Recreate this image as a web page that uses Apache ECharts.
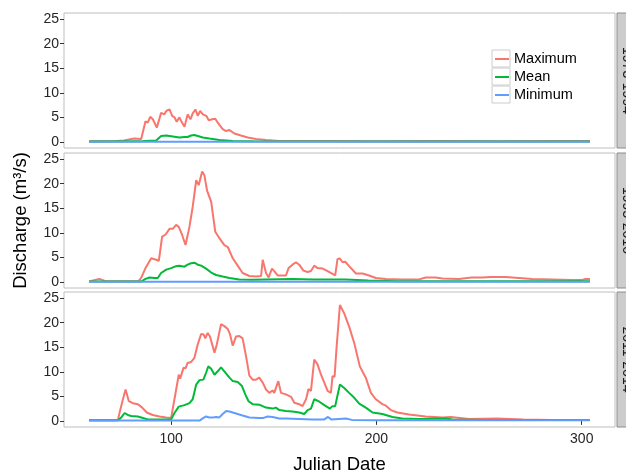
<!DOCTYPE html>
<html>
<head>
<meta charset="utf-8">
<script src="https://cdn.jsdelivr.net/npm/echarts@6/dist/echarts.min.js"></script>
<style>
	html, body { margin: 0; padding: 0; background: #fff; }
	#main { width: 626px; height: 474px; }
</style>
</head>
<body>
<div id="main"></div>
<script>
// periods, one facet each
const periods = ['1973-1994', '1995-2010', '2011-2014'];
const xTicks = [100, 200, 300];
const yTicks = [0, 5, 10, 15, 20, 25];

// [julian day, discharge m3/s]
const max1973 = [[60,0.1],[70,0.1],[77,0.3],[82,0.7],[85.4,0.6],[87.5,4.2],[88.6,3.9],[89.8,5.1],[91.1,4.6],[93,2.9],[95.1,5.9],[96.7,5.6],[97.6,6.3],[99.2,6.6],[100.5,5.3],[101.6,5.0],[102.7,4.1],[104,5.0],[104.8,4.3],[106.5,3.1],[108,5.6],[109.4,4.6],[110.5,5.8],[111.8,6.6],[113,5.3],[114.1,6.3],[115.4,5.6],[117.1,5.3],[118.3,4.4],[120,4.6],[121.5,4.7],[122.7,3.9],[125.1,2.6],[126.7,2.2],[128.4,2.4],[130.8,1.7],[134,1.3],[137.3,0.9],[141.3,0.6],[146.2,0.4],[152.6,0.2],[174,0.2],[200,0.15],[230,0.2],[260,0.15],[290,0.2],[304,0.2]];
const mean1973 = [[60,0.05],[85,0.1],[87,0.2],[92.7,0.3],[95.1,1.2],[97.6,1.3],[100.8,1.1],[104,0.9],[106.5,1.0],[108,1.0],[109.7,1.3],[111.3,1.4],[113,1.2],[115.4,0.9],[118.6,0.7],[123.5,0.4],[130,0.2],[140,0.1],[304,0.05]];
const min1973 = [[60,0],[120,0],[200,0],[304,0]];

const max1995 = [[60,0.1],[63,0.4],[65,0.6],[68.4,0.1],[84,0.1],[85.4,0.8],[87.5,2.8],[90.3,4.8],[92.7,4.5],[94,4.3],[95.6,9.2],[97.2,9.6],[99.2,10.8],[100.8,10.8],[102.4,11.6],[103.7,11.2],[105.3,9.6],[107,7.5],[108.9,11.2],[110.5,15.3],[112.2,20.7],[113.4,19.7],[114.1,19.8],[115.1,22.5],[116.2,21.7],[117.5,18.6],[119.5,16.3],[121.5,10.2],[123.5,8.9],[125.9,7.5],[127.6,7.1],[130,4.8],[132.4,3.3],[134.8,1.8],[138.1,1.2],[141.3,1.1],[143.8,1.2],[144.6,4.5],[146.2,1.8],[147.5,0.9],[149.1,2.7],[150.2,2.2],[151.9,1.3],[155.9,1.3],[157.2,2.8],[159.1,3.5],[160.8,4.0],[162.4,3.5],[164.4,2.3],[166.5,2.0],[168.1,2.2],[169.7,3.3],[171.3,2.8],[173.8,2.7],[176.2,2.2],[179.9,1.3],[181,4.6],[182.1,4.8],[183.5,4.0],[184.8,4.1],[186.7,3.2],[190,1.7],[193.2,1.7],[196.4,1.3],[199.7,0.8],[204.6,0.6],[212.6,0.5],[220.8,0.5],[224,0.9],[228.9,0.9],[232.1,0.7],[240.2,0.6],[246.4,0.9],[251.6,0.9],[255.6,1.0],[262.9,1.0],[269.4,0.8],[275.9,0.6],[285.6,0.5],[295.3,0.4],[300.2,0.4],[301.8,0.6],[304,0.6]];
const mean1995 = [[60,0.05],[85.4,0.05],[87.5,0.6],[89.5,0.9],[91.9,0.8],[93.5,0.8],[95.1,1.8],[97.6,2.5],[100,2.8],[102.4,3.2],[104,3.3],[106.5,3.1],[108,3.5],[109.7,3.8],[111.3,3.9],[113,3.5],[114.6,3.3],[117,2.7],[119.5,1.9],[121.9,1.4],[125.1,1.1],[128.4,0.8],[133.2,0.5],[139.7,0.45],[146.2,0.5],[159.1,0.6],[168.8,0.5],[185,0.5],[196,0.3],[210,0.15],[304,0.1]];
const min1995 = [[60,0],[120,0],[200,0],[304,0]];

const max2011 = [[60,0.1],[74,0.1],[74.9,1.7],[76.5,4.4],[77.8,6.4],[79.4,4.0],[81.3,3.6],[83.8,3.4],[85.9,2.7],[88.1,1.7],[91,1.2],[94.3,0.9],[97.6,0.7],[100,0.6],[101.6,4.4],[103.7,9.4],[104.4,8.6],[106,10.8],[107,10.7],[108,11.8],[109.7,12.0],[111.3,12.8],[112.9,15.5],[114.6,17.7],[115.8,17.6],[116.6,16.8],[117.8,17.9],[118.9,17.2],[121.1,13.9],[122.2,15.5],[124.3,19.7],[125.9,19.3],[127.6,18.7],[128.7,17.6],[130,15.3],[131.6,17.2],[133.2,17.3],[134.8,16.8],[136.5,13.1],[138.1,9.2],[139.7,8.4],[141.3,8.4],[142.9,8.8],[144.6,7.8],[146.2,6.4],[147.8,5.7],[149.4,6.2],[150.2,5.7],[151,6.1],[152.2,8.1],[153.5,5.7],[155.9,5.4],[158.4,4.9],[160,3.7],[162.4,3.4],[164,3.0],[165.7,4.4],[166.9,6.5],[168.1,6.1],[169.7,12.5],[171.3,11.5],[173,9.4],[174.6,7.8],[176.2,6.1],[177.8,5.7],[178.6,9.1],[179.6,9.0],[180.5,14.5],[182.2,23.6],[184.3,21.9],[186.7,19.2],[189.2,15.8],[191.9,11.1],[194.8,8.8],[197.3,5.7],[199.7,4.4],[202.9,3.4],[204.6,3.1],[207,2.2],[210.2,1.7],[215.9,1.3],[224,0.9],[232.1,0.7],[236.2,0.8],[237,0.4],[245.1,0.4],[258.9,0.5],[259.5,0.3],[271.4,0.3],[285.6,0.2],[304,0.2]];
const mean2011 = [[60,0.1],[74,0.1],[75.7,0.7],[77.3,1.6],[78.9,1.2],[80.5,1.0],[83.8,0.9],[86.2,0.6],[88.6,0.3],[100,0.3],[101.6,1.6],[103.7,2.9],[106.5,3.2],[108.9,3.6],[110.5,4.4],[112.2,7.4],[113.8,8.3],[115.7,8.4],[117,9.8],[118.1,11.1],[119.5,10.6],[121.1,9.4],[122.7,10.1],[124.3,10.9],[125.9,10.1],[128.4,8.8],[130,8.1],[132.4,7.9],[134.5,7.1],[136.1,5.4],[137.7,4.0],[139.7,3.4],[142.9,3.3],[146.2,2.7],[149.4,2.5],[151,2.7],[152.7,2.2],[155.9,2.0],[159.1,1.9],[162.4,1.7],[164.8,1.4],[166.5,2.2],[168.1,2.5],[169.7,4.4],[172.2,3.9],[174.6,3.2],[177.3,2.5],[178.6,3.0],[179.9,3.0],[181,5.1],[182.2,7.4],[184.3,6.7],[186.7,5.7],[189.2,4.7],[191.6,3.5],[194.8,2.7],[198.1,1.7],[202.9,1.4],[207.8,0.8],[212.6,0.5],[220.8,0.4],[233.7,0.5],[237,0.3],[253.2,0.2],[304,0.2]];
const min2011 = [[60,0.05],[113.8,0.05],[115.4,0.5],[117,0.9],[118.6,0.7],[120.3,0.7],[121.9,0.8],[123.5,0.7],[125.1,1.4],[126.8,2.0],[128.4,1.9],[130,1.7],[132.4,1.4],[134.8,1.1],[138.1,0.7],[142.9,0.6],[145,0.6],[147,0.9],[149.4,0.8],[152.7,0.5],[155.9,0.5],[162.4,0.4],[168.8,0.3],[174.6,0.3],[176.4,0.8],[178,0.3],[185.1,0.5],[188,0.2],[200,0.15],[304,0.1]];

const panelData = [
	[max1973, mean1973, min1973],
	[max1995, mean1995, min1995],
	[max2011, mean2011, min2011]
];
const seriesNames = ['Maximum', 'Mean', 'Minimum'];
const seriesColors = ['#F8766D', '#00BA38', '#619CFF'];

const FONT = 'Liberation Sans';
const tops = [13, 153, 292];
const panelH = 135;
const panelL = 64, panelR = 615;

let chart = echarts.init(document.getElementById('main'), null, {renderer: 'canvas'});

let grids = [], xAxes = [], yAxes = [], series = [], graphics = [];
tops.forEach((top, i) => {
	grids.push({
		left: panelL, top: top, width: panelR - panelL, height: panelH,
		outerBoundsMode: 'none', containLabel: false,
		show: true, borderColor: '#BEBEBE', borderWidth: 1, backgroundColor: '#fff'
	});
	let last = i == tops.length - 1;
	xAxes.push({
		type: 'value', gridIndex: i, min: 47.8, max: 316.2,
		axisLine: {show: false},
		splitLine: {show: false},
		axisTick: {show: last, length: 4, customValues: xTicks, lineStyle: {color: '#333'}},
		axisLabel: {show: last, customValues: xTicks, margin: 5, color: '#262626', fontSize: 14, fontFamily: FONT},
		name: last ? 'Julian Date' : '',
		nameLocation: 'middle', nameGap: 28,
		nameTextStyle: {fontSize: 18.5, color: '#000', fontFamily: FONT}
	});
	yAxes.push({
		type: 'value', gridIndex: i, min: -1.25, max: 26.25,
		axisLine: {show: false},
		splitLine: {show: false},
		axisTick: {show: true, length: 4, customValues: yTicks, lineStyle: {color: '#333'}},
		axisLabel: {customValues: yTicks, margin: 5, color: '#262626', fontSize: 14, fontFamily: FONT},
		name: i == 1 ? 'Discharge (m³/s)' : '',
		nameLocation: 'middle', nameGap: 34, nameRotate: 90,
		nameTextStyle: {fontSize: 18.5, color: '#000', fontFamily: FONT}
	});
	panelData[i].forEach((d, k) => {
		series.push({
			name: seriesNames[k], type: 'line',
			xAxisIndex: i, yAxisIndex: i,
			data: d, symbol: 'none', smooth: false,
			color: seriesColors[k],
			lineStyle: {width: 2, color: seriesColors[k]},
			z: 2 + k, silent: true
		});
	});
	// facet strip on the right
	graphics.push({
		type: 'rect', shape: {x: 617, y: top, width: 30, height: panelH},
		style: {fill: '#CCCCCC', stroke: '#8C8C8C', lineWidth: 1}, z: 1
	});
	graphics.push({
		type: 'text', x: 627, y: top + panelH / 2, rotation: -Math.PI / 2,
		style: {text: periods[i], fill: '#1A1A1A', font: '14px "' + FONT + '"', align: 'center', verticalAlign: 'middle'},
		z: 2
	});
});

// legend key boxes
[50, 68, 86].forEach(y => {
	graphics.push({
		type: 'rect', shape: {x: 492, y: y, width: 18, height: 17},
		style: {fill: '#fff', stroke: '#CCCCCC', lineWidth: 1}, z: 1
	});
});

chart.setOption({
	animation: false,
	backgroundColor: '#fff',
	grid: grids,
	xAxis: xAxes,
	yAxis: yAxes,
	legend: {
		data: seriesNames,
		orient: 'vertical', left: 494, top: 51.5,
		itemWidth: 14, itemHeight: 17, itemGap: 3, padding: 0,
		itemStyle: {opacity: 0},
		lineStyle: {width: 2},
		textStyle: {fontSize: 14.5, color: '#000', fontFamily: FONT},
		z: 5
	},
	graphic: graphics,
	series: series
});
</script>
</body>
</html>
